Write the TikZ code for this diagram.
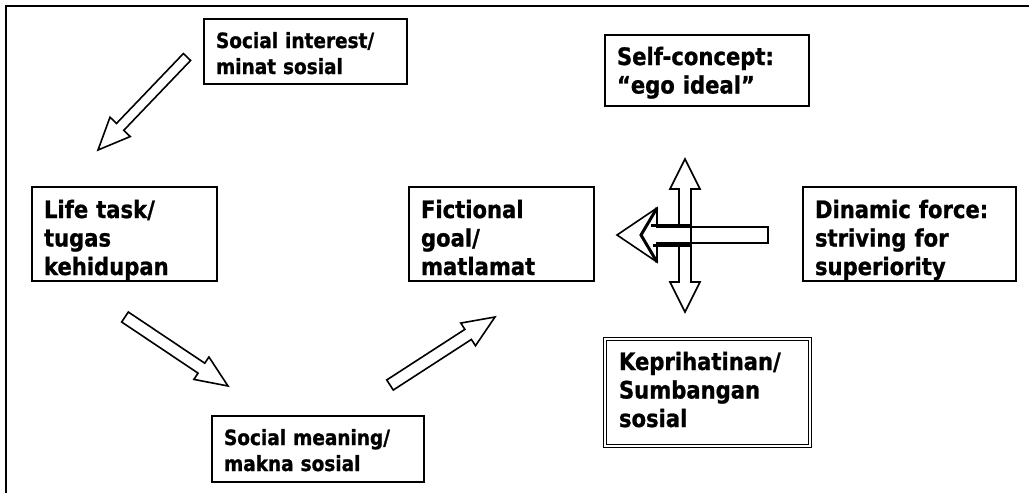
\documentclass[tikz,border=0pt]{standalone}
\usepackage{fontspec}
\newfontfamily\diafont{DejaVu Sans}[FakeStretch=0.88, FakeBold=1]
\usetikzlibrary{calc}

% hollow block arrow: tail, tip, half shaft, half head, head length
\newcommand{\blockarrow}[5]{%
  \coordinate (ba-neck) at ($(#2)!#5!(#1)$);
  \draw[hollow] ($(#1)!#3!90:(#2)$) -- ($(ba-neck)!#3!90:(#2)$) -- ($(ba-neck)!#4!90:(#2)$) -- (#2)
    -- ($(ba-neck)!#4!-90:(#2)$) -- ($(ba-neck)!#3!-90:(#2)$) -- ($(#1)!#3!-90:(#2)$) -- cycle;
}
% same with a head at both ends
\newcommand{\doubleblockarrow}[5]{%
  \coordinate (ba-necka) at ($(#1)!#5!(#2)$);
  \coordinate (ba-neckb) at ($(#2)!#5!(#1)$);
  \draw[hollow] (#1) -- ($(ba-necka)!#4!90:(#2)$) -- ($(ba-necka)!#3!90:(#2)$) -- ($(ba-neckb)!#3!90:(#2)$)
    -- ($(ba-neckb)!#4!90:(#2)$) -- (#2) -- ($(ba-neckb)!#4!-90:(#2)$) -- ($(ba-neckb)!#3!-90:(#2)$)
    -- ($(ba-necka)!#3!-90:(#2)$) -- ($(ba-necka)!#4!-90:(#2)$) -- cycle;
}

\begin{document}
\begin{tikzpicture}[x=1pt, y=-1pt, node distance=100pt]
% Styles
\tikzstyle{frame} = [line width=2pt]
\tikzstyle{bigbox} = [rectangle, draw=black, line width=1.8pt, inner xsep=12pt, inner ysep=0pt, align=left, font=\diafont\bfseries\fontsize{24}{28.5}\selectfont]
\tikzstyle{smallbox} = [bigbox, font=\diafont\bfseries\fontsize{21}{26}\selectfont]
\tikzstyle{doublebox} = [bigbox, double, double distance=2pt, line width=1pt, inner xsep=14pt]
\tikzstyle{hollow} = [draw=black, fill=white, line width=1.6pt, line join=miter]
\tikzstyle{shadowline} = [line width=3pt]

\useasboundingbox (0,0) rectangle (1029,493);
\draw[frame] (5.5,494) -- (5.5,6) -- (1030,6);

\node (lifetask) [bigbox, text width=161pt, text height=31pt, text depth=63pt] at (124.5,234) {Life task/\\ tugas\\ kehidupan};
\node (goal) [bigbox, text width=161pt, text height=31pt, text depth=63pt, right of=lifetask, xshift=277pt] {Fictional\\ goal/\\ matlamat};
\node (force) [bigbox, text width=189pt, text height=31pt, text depth=63pt, right of=goal, xshift=308pt] {Dinamic force:\\ striving for\\ superiority};
\node (socint) [smallbox, text width=179pt, text height=29pt, text depth=36pt, above of=lifetask, xshift=181pt, yshift=82.5pt] {Social interest/\\ minat sosial};
\node (selfcon) [bigbox, text width=180pt, text height=30pt, text depth=41pt, above of=goal, xshift=205.5pt, yshift=63.5pt] {Self-concept:\\ “ego ideal”};
\node (kepri) [doublebox, text width=177pt, text height=31pt, text depth=76pt, below of=goal, xshift=206pt, yshift=-58.5pt] {Keprihatinan/\\ Sumbangan\\ sosial};
\node (socmean) [smallbox, text width=188pt, text height=29pt, text depth=37pt, below of=lifetask, xshift=193.5pt, yshift=-115pt] {Social meaning/\\ makna sosial};

\coordinate (intail) at (187,57);
\coordinate (intip) at (98,150);
\coordinate (tasktail) at (125,317);
\coordinate (tasktip) at (228,386);
\coordinate (meantail) at (390,385);
\coordinate (meantip) at (495,317);
\coordinate (vtop) at (685,159);
\coordinate (vbottom) at (685,312);
\coordinate (forcetail) at (768,235);
\coordinate (forcetip) at (617,235);

\blockarrow{intail}{intip}{5pt}{14pt}{32pt}
\blockarrow{tasktail}{tasktip}{6pt}{13.5pt}{32pt}
\blockarrow{meantail}{meantip}{6pt}{13.5pt}{32pt}
\doubleblockarrow{vtop}{vbottom}{6pt}{15pt}{30pt}
\blockarrow{forcetail}{forcetip}{8pt}{27pt}{40pt}
\draw[shadowline] ($(forcetip)+(40,-27)$) -- ($(forcetip)+(24,0)$) -- ($(forcetip)+(40,27)$);
\draw[shadowline] ($(forcetip)+(34,-10)$) -- ($(forcetip)+(74,-10)$);
\draw[shadowline] ($(forcetip)+(36,10)$) -- ($(forcetip)+(74,10)$);
\draw[line width=1.6pt] ($(vtop)+(6,66)$) -- ($(vtop)+(6,86)$);

\end{tikzpicture}
\end{document}
